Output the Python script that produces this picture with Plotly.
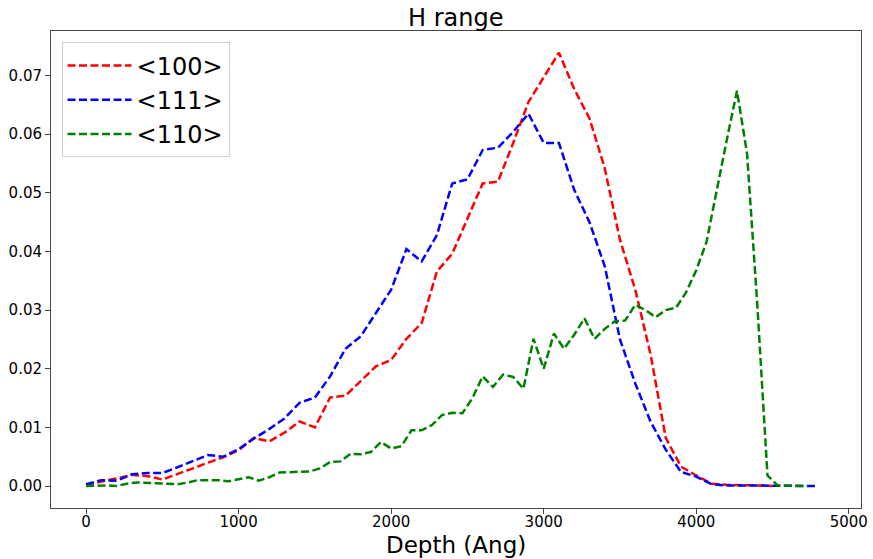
import plotly.graph_objects as go

# Depth grid (Angstrom) for the <100> and <111> profiles
depth_100 = [0, 100, 200, 300, 400, 500, 600, 700, 800, 900,
             1000, 1100, 1200, 1300, 1400, 1500, 1600, 1700, 1800, 1900,
             2000, 2100, 2200, 2300, 2400, 2500, 2600, 2700, 2800, 2900,
             3000, 3100, 3200, 3300, 3400, 3500, 3600, 3700, 3800, 3900,
             4000, 4100, 4200, 4300, 4400, 4500]
h_100 = [0.0002, 0.0007, 0.0013, 0.0019, 0.0017, 0.0011, 0.0020, 0.0030, 0.0040, 0.0049,
         0.0061, 0.0082, 0.0076, 0.0091, 0.0110, 0.0100, 0.0151, 0.0154, 0.0179, 0.0204,
         0.0215, 0.0251, 0.0278, 0.0366, 0.0396, 0.0457, 0.0516, 0.0519, 0.0585, 0.0655,
         0.0698, 0.0739, 0.0677, 0.0627, 0.0542, 0.0420, 0.0335, 0.0225, 0.0082, 0.0033,
         0.0018, 0.0004, 0.0002, 0.0002, 0.0001, 0.0000]

depth_111 = [0, 100, 200, 300, 400, 500, 600, 700, 800, 900,
             1000, 1100, 1200, 1300, 1400, 1500, 1600, 1700, 1800, 1900,
             2000, 2100, 2200, 2300, 2400, 2500, 2600, 2700, 2800, 2900,
             3000, 3100, 3200, 3300, 3400, 3500, 3600, 3700, 3800, 3900,
             4000, 4100, 4200, 4300, 4400, 4500, 4600, 4700, 4800]
h_111 = [0.0003, 0.0010, 0.0009, 0.0020, 0.0022, 0.0022, 0.0032, 0.0043, 0.0053, 0.0050,
         0.0063, 0.0081, 0.0097, 0.0115, 0.0142, 0.0151, 0.0187, 0.0234, 0.0255, 0.0295,
         0.0335, 0.0404, 0.0383, 0.0428, 0.0516, 0.0523, 0.0573, 0.0577, 0.0604, 0.0635,
         0.0585, 0.0585, 0.0505, 0.0450, 0.0375, 0.0250, 0.0175, 0.0110, 0.0062, 0.0024,
         0.0016, 0.0003, 0.0001, 0.0001, 0.0001, 0.0000, 0.0000, 0.0000, 0.0000]

# The <110> profile is binned more finely
depth_110 = [0, 67, 133, 200, 267, 333, 400, 467, 533, 600,
             667, 733, 800, 867, 933, 1000, 1067, 1133, 1200, 1267,
             1333, 1400, 1467, 1533, 1600, 1667, 1733, 1800, 1867, 1933,
             2000, 2067, 2133, 2200, 2267, 2333, 2400, 2467, 2533, 2600,
             2667, 2733, 2800, 2867, 2933, 3000, 3067, 3133, 3200, 3267,
             3333, 3400, 3467, 3533, 3600, 3667, 3733, 3800, 3867, 3933,
             4000, 4067, 4133, 4200, 4267, 4333, 4400, 4467, 4533, 4600,
             4667, 4733]
h_110 = [0.0000, 0.0001, 0.0001, 0.0000, 0.0004, 0.0006, 0.0005, 0.0004, 0.0004, 0.0003,
         0.0006, 0.0010, 0.0010, 0.0010, 0.0008, 0.0012, 0.0015, 0.0009, 0.0015, 0.0023,
         0.0024, 0.0025, 0.0025, 0.0030, 0.0041, 0.0042, 0.0055, 0.0054, 0.0058, 0.0075,
         0.0064, 0.0068, 0.0095, 0.0095, 0.0104, 0.0121, 0.0125, 0.0124, 0.0150, 0.0187,
         0.0169, 0.0190, 0.0186, 0.0166, 0.0251, 0.0200, 0.0260, 0.0234, 0.0258, 0.0286,
         0.0251, 0.0268, 0.0281, 0.0282, 0.0309, 0.0300, 0.0288, 0.0300, 0.0304, 0.0330,
         0.0368, 0.0416, 0.0504, 0.0590, 0.0674, 0.0567, 0.0310, 0.0018, 0.0001, 0.0000,
         0.0000, 0.0000]

series = [
    ("&lt;100&gt;", depth_100, h_100, "red"),
    ("&lt;111&gt;", depth_111, h_111, "blue"),
    ("&lt;110&gt;", depth_110, h_110, "green"),
]

FONT = "DejaVu Sans"

fig = go.Figure()
for name, xs, ys, color in series:
    fig.add_trace(go.Scatter(
        x=xs, y=ys, mode="lines", name=name,
        line=dict(color=color, width=2.5, dash="8px,3.5px"),
    ))

axis_common = dict(
    showgrid=False, zeroline=False, showline=True, mirror=True,
    linecolor="#444444", linewidth=1, automargin=False,
    ticks="outside", ticklen=5, tickcolor="#444444", tickwidth=1,
    tickfont=dict(family=FONT, size=15, color="black"),
)

fig.update_layout(
    width=873, height=559,
    margin=dict(l=51, r=12, t=31, b=51),
    paper_bgcolor="white", plot_bgcolor="white",
    font=dict(family=FONT, color="black"),
    title=dict(text="H range", x=0.522, xanchor="center",
               y=0.968, yanchor="middle", yref="container",
               font=dict(family=FONT, size=24, color="black")),
    xaxis=dict(range=[-230, 5080], tickvals=[0, 1000, 2000, 3000, 4000, 5000],
               ticklabelstandoff=-5, **axis_common),
    yaxis=dict(range=[-0.00375, 0.0776],
               tickvals=[0, 0.01, 0.02, 0.03, 0.04, 0.05, 0.06, 0.07],
               tickformat=".2f", **axis_common),
    legend=dict(x=0.013, y=0.976, xanchor="left", yanchor="top",
                bgcolor="rgba(255,255,255,0.8)", bordercolor="#d0d0d0", borderwidth=1,
                font=dict(family=FONT, size=24, color="black"),
                itemwidth=64, tracegroupgap=0),
    showlegend=True,
    annotations=[dict(text="Depth (Ang)", xref="paper", yref="paper",
                      x=0.5, y=-0.0775, xanchor="center", yanchor="middle",
                      showarrow=False, font=dict(family=FONT, size=23, color="black"))],
)

fig.write_html("out.html")
